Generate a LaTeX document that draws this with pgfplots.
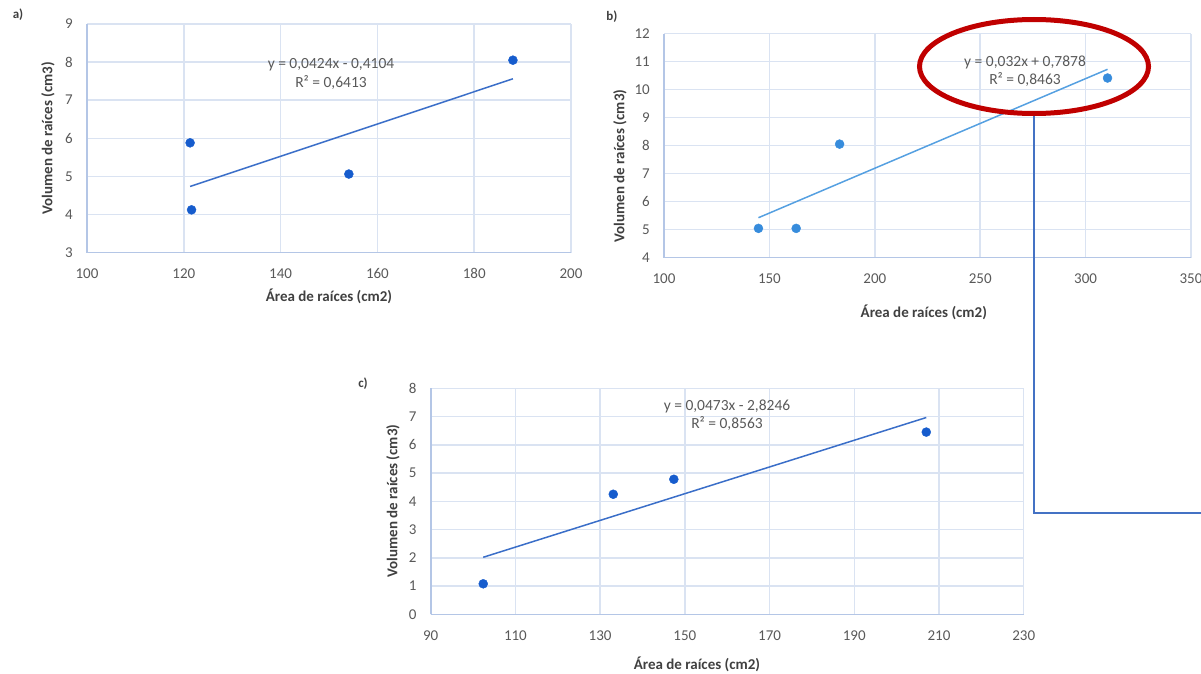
\documentclass[border=0pt]{standalone}
\usepackage{fontspec}
\setmainfont{Carlito}
\usepackage{pgfplots}
\pgfplotsset{compat=1.18}

\definecolor{gridc}{RGB}{218,227,242}
\definecolor{axc}{RGB}{180,198,230}
\definecolor{tickc}{RGB}{89,89,89}
\definecolor{labc}{RGB}{64,64,64}
\definecolor{ptA}{RGB}{22,92,205}
\definecolor{lnA}{RGB}{58,110,200}
\definecolor{ptB}{RGB}{55,140,220}
\definecolor{lnB}{RGB}{85,160,225}
\definecolor{ellc}{RGB}{192,0,0}
\definecolor{conc}{RGB}{68,114,196}

\pgfplotsset{
 excel/.style={
  scale only axis,
  axis lines*=left,
  axis line style={-, color=axc, line width=1.6pt},
  grid=major,
  major grid style={color=gridc, line width=1.5pt},
  major tick length=0pt,
  tick style={draw=none},
  /pgf/number format/assume math mode=true,
  ticklabel style={font=\fontsize{15}{15}\selectfont, color=tickc},
  xticklabel style={anchor=center, yshift=-21pt},
  yticklabel style={anchor=east, inner sep=0pt, xshift=-14pt},
  label style={font=\bfseries\fontsize{15}{15}\selectfont, color=labc},
  clip=false,
 },
}

\begin{document}
\begin{tikzpicture}
\path[use as bounding box] (0pt,0pt) rectangle (1201pt,-674pt);

% ---------- a)
\begin{axis}[excel, at={(87pt,-252.5pt)}, anchor=south west,
  width=484pt, height=228.5pt,
  xmin=100, xmax=200, ymin=3, ymax=9,
  xtick={100,120,...,200}, ytick={3,4,...,9},
  xlabel={Área de raíces (cm2)},
  ylabel={Volumen de raíces (cm3)},
  xlabel style={at={(axis description cs:0.5,-0.1934)}, anchor=center},
  ylabel style={at={(axis description cs:-0.0806,0.5)}, anchor=center}]
\addplot[only marks, mark=*, mark size=4.5pt, color=ptA] coordinates {
 (121.3,5.88) (121.6,4.12) (154.1,5.06) (188,8.05)};
\addplot[lnA, line width=1.5pt] coordinates {(121.3,4.733) (188,7.561)};
\end{axis}

% ---------- b)
\begin{axis}[excel, at={(664pt,-257.5pt)}, anchor=south west,
  width=527pt, height=224pt,
  xmin=100, xmax=350, ymin=4, ymax=12,
  xtick={100,150,...,350}, ytick={4,5,...,12},
  xlabel={Área de raíces (cm2)},
  ylabel={Volumen de raíces (cm3)},
  xlabel style={at={(axis description cs:0.493,-0.2464)}, anchor=center},
  ylabel style={at={(axis description cs:-0.0835,0.408)}, anchor=center}]
\addplot[only marks, mark=*, mark size=4.5pt, color=ptB] coordinates {
 (144.8,5.04) (162.7,5.04) (183.3,8.05) (310.4,10.41)};
\addplot[lnB, line width=1.5pt] coordinates {(144.8,5.421) (310.4,10.721)};
\end{axis}

% ---------- c)
\begin{axis}[excel, at={(430.7pt,-614.3pt)}, anchor=south west,
  width=593pt, height=226pt,
  xmin=90, xmax=230, ymin=0, ymax=8,
  xtick={90,110,...,230}, ytick={0,1,...,8},
  xlabel={Área de raíces (cm2)},
  ylabel={Volumen de raíces (cm3)},
  xlabel style={at={(axis description cs:0.449,-0.22)}, anchor=center},
  ylabel style={at={(axis description cs:-0.0636,0.501)}, anchor=center}]
\addplot[only marks, mark=*, mark size=4.5pt, color=ptA] coordinates {
 (102.4,1.08) (133.1,4.25) (147.4,4.78) (207,6.45)};
\addplot[lnA, line width=1.5pt] coordinates {(102.4,2.019) (207,6.966)};
\end{axis}

% panel letters
\node[font=\bfseries\fontsize{13}{13}\selectfont, color=labc] at (18pt,-15pt) {a)};
\node[font=\bfseries\fontsize{13}{13}\selectfont, color=labc] at (612pt,-17pt) {b)};
\node[font=\bfseries\fontsize{13}{13}\selectfont, color=labc] at (363pt,-384pt) {c)};

% equations
\node[font=\fontsize{15.5}{18.3}\selectfont, color=tickc, align=center] at (331pt,-74pt)
 {y = 0,0424x - 0,4104\\R² = 0,6413};
\node[font=\fontsize{15.5}{18.3}\selectfont, color=tickc, align=center] at (1025pt,-71.5pt)
 {y = 0,032x + 0,7878\\R² = 0,8463};
\node[font=\fontsize{15.5}{18.3}\selectfont, color=tickc, align=center] at (727pt,-415.5pt)
 {y = 0,0473x - 2,8246\\R² = 0,8563};

% connector and ellipse
\draw[conc, line width=2pt] (1034pt,-112pt) -- (1034pt,-512.5pt) -- (1201pt,-512.5pt);
\draw[ellc, line width=5pt] (1034pt,-66.5pt) ellipse [x radius=114.5pt, y radius=47pt];
\end{tikzpicture}
\end{document}
